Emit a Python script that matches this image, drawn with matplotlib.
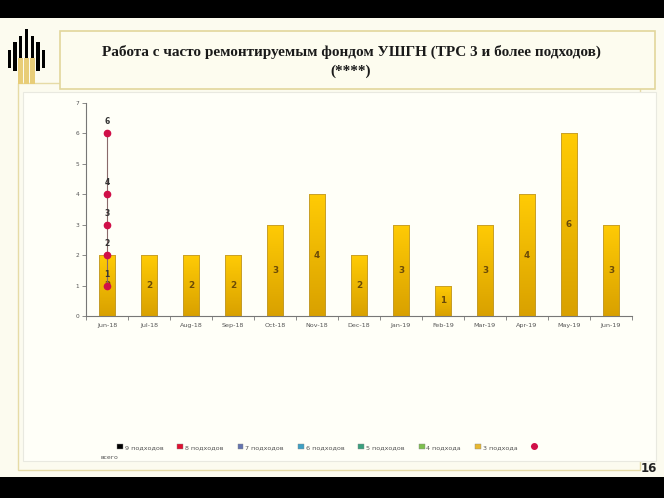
import numpy as np
import matplotlib
matplotlib.use("Agg")
import matplotlib.pyplot as plt
from matplotlib.patches import Rectangle, Patch
from matplotlib.lines import Line2D
from matplotlib.colors import LinearSegmentedColormap

# ---------------- data ----------------
months = ["Jun-18", "Jul-18", "Aug-18", "Sep-18", "Oct-18", "Nov-18", "Dec-18",
          "Jan-19", "Feb-19", "Mar-19", "Apr-19", "May-19", "Jun-19"]
values_3 = [2, 2, 2, 2, 3, 4, 2, 3, 1, 3, 4, 6, 3]
total_x_index = [0, 0, 0, 0, 0]
total_values = [1, 2, 3, 4, 6]
total_labels = ["1", "2", "3", "4", "6"]
legend_labels = ["9 подходов", "8 подходов", "7 подходов", "6 подходов",
                 "5 подходов", "4 подхода", "3 подхода"]
legend_colors = ["#000000", "#E01030", "#6474B0", "#3EA0C4", "#3AA07E",
                 "#7DBF4E", "#E8B830"]
title_line1 = "Работа с часто ремонтируемым фондом УШГН (ТРС 3 и более подходов)"
title_line2 = "(****)"
page_number = "16"

W, H = 664, 498
fig = plt.figure(figsize=(W / 100, H / 100), dpi=100)
fig.patch.set_facecolor("#FCFBEF")

def fx(px):
    return px / W

def fy(py):
    return 1 - py / H

def frect(x0, y0, x1, y1, **kw):
    fig.patches.append(Rectangle((fx(x0), fy(y1)), fx(x1) - fx(x0), fy(y0) - fy(y1),
                                 transform=fig.transFigure, zorder=-5, **kw))

# black bands
frect(0, 0, W, 18, facecolor="black", edgecolor="none")
frect(0, 477, W, H, facecolor="black", edgecolor="none")

# outer chart panel and inner panel
frect(18, 83, 640, 470, facecolor="#FCFBEF", edgecolor="#E6DBA6", linewidth=1.0)
frect(23, 92, 656, 461, facecolor="#FFFFF8", edgecolor="#E9E9E0", linewidth=0.8)
# title box
frect(60, 31, 655, 89, facecolor="#FDFCEF", edgecolor="#E2D69C", linewidth=1.2)

# logo (decorative)
logo_black = [(9.5, 50, 68), (15, 42, 71), (20.5, 36, 60), (26.5, 29, 58),
              (32.5, 36, 60), (38, 42, 71), (43.5, 50, 68)]
for cx, t, b in logo_black:
    frect(cx - 1.9, t, cx + 1.9, b, facecolor="black", edgecolor="none")
for cx in [20.5, 26.5, 32.5]:
    frect(cx - 2.2, 58, cx + 2.2, 84, facecolor="#E8CD78", edgecolor="none")

fig.text(fx(351), fy(52), title_line1, ha="center", va="center",
         family="Liberation Serif", fontweight="bold", fontsize=11, color="#1A1A1A")
fig.text(fx(351), fy(71), title_line2, ha="center", va="center",
         family="Liberation Serif", fontweight="bold", fontsize=11, color="#1A1A1A")
fig.text(fx(657), fy(468), page_number, ha="right", va="center",
         fontweight="bold", fontsize=8.5, color="#222222")

# ---------------- chart ----------------
ax = fig.add_axes([fx(86), fy(316), fx(632) - fx(86), fy(103) - fy(316)])
ax.set_facecolor("none")
ax.set_zorder(2)
x = np.arange(len(months))
bars = ax.bar(x, values_3, width=0.4, color="#F4BC00", edgecolor="#C09A30",
              linewidth=0.6, zorder=2)
grad = np.linspace(0, 1, 100).reshape(-1, 1)
cmap = LinearSegmentedColormap.from_list("g", ["#D9A100", "#FFCB05"])
for b in bars:
    bx, by = b.get_x(), b.get_y()
    bw, bh = b.get_width(), b.get_height()
    im = ax.imshow(grad, extent=(bx, bx + bw, by, by + bh), origin="lower",
                   cmap=cmap, aspect="auto", zorder=2.1)
    im.set_clip_path(b)
    ax.add_patch(Rectangle((bx, by), bw, bh, facecolor="none",
                           edgecolor="#C09A30", linewidth=0.6, zorder=2.2))
for xi, v in zip(x, values_3):
    ax.text(xi, v / 2, str(v), ha="center", va="center", fontsize=6.3,
            fontweight="bold", color="#6A4A08", zorder=3)

ax.plot(total_x_index, total_values, color="#8A6A6A", linewidth=0.8,
        marker="o", markersize=4.5, markerfacecolor="#D01048",
        markeredgecolor="#D01048", zorder=4)
for xi, v, lab in zip(total_x_index, total_values, total_labels):
    ax.text(xi, v + 0.38, lab, ha="center", va="center", fontsize=5.5,
            fontweight="bold", color="#333333", zorder=5)

ax.set_xlim(-0.5, len(months) - 0.5)
ax.set_ylim(0, 7)
ax.set_yticks(range(0, 8))
ax.set_xticks(x)
ax.set_xticklabels(months)
ax.set_xticks(np.arange(-0.5, len(months), 1), minor=True)
ax.tick_params(axis="x", which="major", length=0, labelsize=4.6,
               labelcolor="#555555", pad=5)
ax.tick_params(axis="x", which="minor", length=3, color="#777777", width=0.6)
ax.tick_params(axis="y", length=3, labelsize=4.2, labelcolor="#555555",
               color="#777777", width=0.6, pad=2)
for s in ["top", "right"]:
    ax.spines[s].set_visible(False)
for s in ["left", "bottom"]:
    ax.spines[s].set_color("#777777")
    ax.spines[s].set_linewidth(0.8)

# legend
handles = [Patch(facecolor=c, edgecolor="#888888", linewidth=0.3) for c in legend_colors]
handles.append(Line2D([], [], color="#D01048", marker="o", markersize=4,
                      linewidth=0.8, markerfacecolor="#D01048"))
labels = legend_labels + [""]
leg = fig.legend(handles, labels, loc="center", ncol=8,
                 bbox_to_anchor=(fx(328), fy(447)), frameon=False,
                 fontsize=4.6, handlelength=0.9, handleheight=0.9,
                 handletextpad=0.3, columnspacing=2.2, labelcolor="#555555")
fig.text(fx(100), fy(457), "всего", ha="left", va="center", fontsize=4.4,
         color="#555555")

fig.savefig("out.png", dpi=100, facecolor=fig.get_facecolor())
